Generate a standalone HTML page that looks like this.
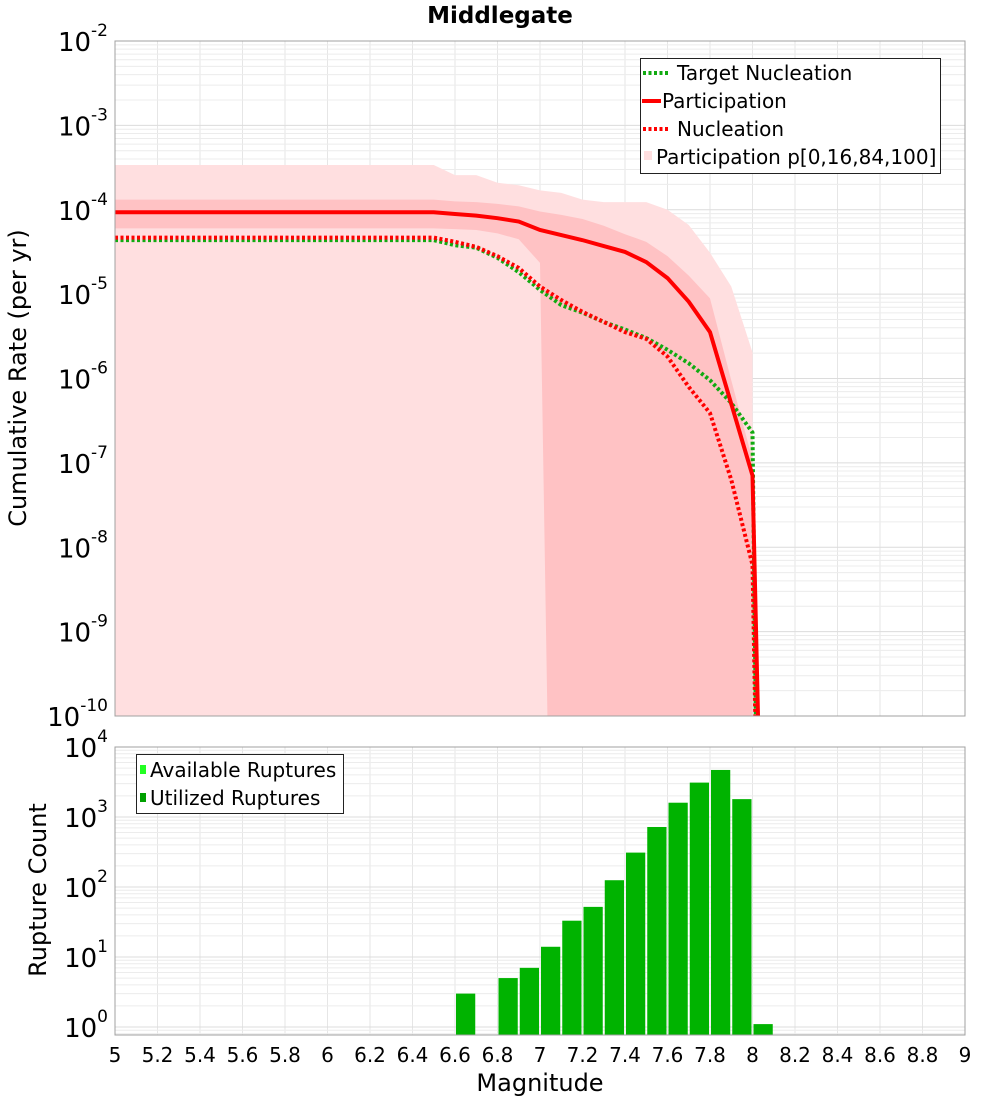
<!DOCTYPE html>
<html><head><meta charset="utf-8"><style>
html,body{margin:0;padding:0;background:#fff;width:1000px;height:1100px;overflow:hidden;}
svg{display:block;font-family:"DejaVu Sans","Liberation Sans",sans-serif;}
</style></head><body>
<svg id="c" width="1000" height="1100"></svg>
<script>
const mags=[5.0,5.1,5.2,5.3,5.4,5.5,5.6,5.7,5.8,5.9,6.0,6.1,6.2,6.3,6.4,6.5,6.6,6.7,6.8,6.9,7.0,7.1,7.2,7.3,7.4,7.5,7.6,7.7,7.8,7.9,8.0];
const partLog=[-4.03,-4.03,-4.03,-4.03,-4.03,-4.03,-4.03,-4.03,-4.03,-4.03,-4.03,-4.03,-4.03,-4.03,-4.03,-4.03,-4.05,-4.07,-4.10,-4.14,-4.24,-4.30,-4.36,-4.43,-4.50,-4.62,-4.81,-5.09,-5.45,-6.30,-7.15];
const nuclLog=[-4.33,-4.33,-4.33,-4.33,-4.33,-4.33,-4.33,-4.33,-4.33,-4.33,-4.33,-4.33,-4.33,-4.33,-4.33,-4.33,-4.38,-4.44,-4.55,-4.69,-4.91,-5.07,-5.21,-5.33,-5.45,-5.53,-5.74,-6.10,-6.41,-7.20,-8.21];
const targLog=[-4.36,-4.36,-4.36,-4.36,-4.36,-4.36,-4.36,-4.36,-4.36,-4.36,-4.36,-4.36,-4.36,-4.36,-4.36,-4.36,-4.42,-4.45,-4.57,-4.74,-4.95,-5.13,-5.22,-5.33,-5.42,-5.52,-5.66,-5.82,-6.02,-6.29,-6.64];
const p100Log=[-3.47,-3.47,-3.47,-3.47,-3.47,-3.47,-3.47,-3.47,-3.47,-3.47,-3.47,-3.47,-3.47,-3.47,-3.47,-3.47,-3.59,-3.59,-3.68,-3.71,-3.77,-3.80,-3.88,-3.91,-3.91,-3.91,-4.00,-4.18,-4.51,-4.91,-5.69];
const p84Log=[-3.88,-3.88,-3.88,-3.88,-3.88,-3.88,-3.88,-3.88,-3.88,-3.88,-3.88,-3.88,-3.88,-3.88,-3.88,-3.88,-3.90,-3.91,-3.93,-3.96,-4.02,-4.06,-4.11,-4.19,-4.29,-4.38,-4.55,-4.78,-5.05,-6.02,-6.96];
const p16Log=[-4.22,-4.22,-4.22,-4.22,-4.22,-4.22,-4.22,-4.22,-4.22,-4.22,-4.22,-4.22,-4.22,-4.22,-4.22,-4.22,-4.23,-4.24,-4.28,-4.35,-4.63,-20,-20,-20,-20,-20,-20,-20,-20,-20,-20];
const p0Log=[-20,-20,-20,-20,-20,-20,-20,-20,-20,-20,-20,-20,-20,-20,-20,-20,-20,-20,-20,-20,-20,-20,-20,-20,-20,-20,-20,-20,-20,-20,-20];
const binStarts=[6.6,6.8,6.9,7.0,7.1,7.2,7.3,7.4,7.5,7.6,7.7,7.8,7.9,8.0];
const counts=[3,5,7,14,33,52,125,310,720,1600,3100,4700,1800,1.1];
const xTicks=["5","5.2","5.4","5.6","5.8","6","6.2","6.4","6.6","6.8","7","7.2","7.4","7.6","7.8","8","8.2","8.4","8.6","8.8","9"];

const NS="http://www.w3.org/2000/svg";
const svg=document.getElementById('c');
function mk(t,a,p){const e=document.createElementNS(NS,t);for(const k in a)e.setAttribute(k,a[k]);(p||svg).appendChild(e);return e;}
const L=115,R=965;
const X=m=>L+(m-5)*(R-L)/4;
const T1=41,B1=716,Y1=l=>T1+(-2-l)*(B1-T1)/8;
const T2=747,B2=1035,Y2=l=>T2+(4-l)*70;

const defs=mk('defs',{});
const c1=mk('clipPath',{id:'cp1'},defs);mk('rect',{x:L,y:T1,width:R-L,height:B1-T1},c1);
const c2=mk('clipPath',{id:'cp2'},defs);mk('rect',{x:L,y:T2,width:R-L,height:B2-T2},c2);

function grid(top,bot,Yf,dmin,dmax,name){
  const g=mk('g',{});
  
  
  for(let i=0;i<=20;i++){const x=X(5+i*0.2);mk('line',{x1:x,x2:x,y1:top,y2:bot,stroke:'#e6e6e6','stroke-width':1},g);}
  for(let d=dmin;d<dmax;d++){for(let k=1;k<10;k++){const y=Yf(d+Math.log10(k));if(y<top||y>bot)continue;mk('line',{x1:L,x2:R,y1:y,y2:y,stroke:k==1?'#dcdcdc':'#ececec','stroke-width':1},g);}}
}
grid(T1,B1,Y1,-10,-2,'top-grid');
grid(T2,B2,Y2,-1,4,'bottom-grid');

function band(up,lo,fill,name){
  let pts=mags.map((m,i)=>X(m)+','+Y1(up[i]));
  for(let i=mags.length-1;i>=0;i--)pts.push(X(mags[i])+','+Y1(lo[i]));
  const p=mk('polygon',{points:pts.join(' '),fill:fill,'clip-path':'url(#cp1)'});
  
  
}
band(p100Log,p0Log,'#ffdfe0','band-p0-p100');
band(p84Log,p16Log,'#ffc2c4','band-p16-p84');
function line(arr,color,w,dash,name,endM){
  let pts=mags.map((m,i)=>X(m)+','+Y1(arr[i]));
  pts.push(X(endM)+','+Y1(-11));
  const a={points:pts.join(' '),fill:'none',stroke:color,'stroke-width':w,'clip-path':'url(#cp1)'};
  if(dash)a['stroke-dasharray']=dash;
  const p=mk('polyline',a);
  
  
}
line(targLog,'#11aa11',4,'3,2.5','target-nucleation-line',8.02);
line(nuclLog,'#ff0000',4,'3,2.5','nucleation-line',8.02);
line(partLog,'#ff0000',4,null,'participation-line',8.035);

const bg=mk('g',{'clip-path':'url(#cp2)'});


binStarts.forEach((m,i)=>{
  const y=Y2(Math.log10(counts[i]));
  const r=mk('rect',{x:X(m)+1,y:y,width:X(m+0.1)-X(m)-2,height:B2-y,fill:'#00b300'},bg);
  
  
});

mk('rect',{x:L,y:T1,width:R-L,height:B1-T1,fill:'none',stroke:'#a0a0a0','stroke-width':1});
mk('rect',{x:L,y:T2,width:R-L,height:B2-T2,fill:'none',stroke:'#a0a0a0','stroke-width':1});

function ylab(y,exp,name){
  const t=mk('text',{x:108,y:y+10,'text-anchor':'end','font-size':26,fill:'#000'});
  
  
  const a=document.createElementNS(NS,'tspan');a.textContent='10';t.appendChild(a);
  const b=document.createElementNS(NS,'tspan');b.setAttribute('dy','-15');b.setAttribute('font-size','17');b.textContent=exp;t.appendChild(b);
}
for(let d=-2;d>=-10;d--)ylab(Y1(d),String(d),'y-tick-'+d);
for(let d=4;d>=0;d--)ylab(Y2(d),String(d),'count-tick-'+d);

xTicks.forEach((s,i)=>{
  const t=mk('text',{x:X(5+i*0.2),y:1062,'text-anchor':'middle','font-size':20,fill:'#000'});
  t.textContent=s;
  
  
});

function txt(s,a,name,p){const t=mk('text',a,p);t.textContent=s;return t;}
txt('Middlegate',{x:500,y:23,'text-anchor':'middle','font-size':23,'font-weight':'bold'},'chart-title');
txt('Magnitude',{x:540,y:1091,'text-anchor':'middle','font-size':24},'x-axis-title');
txt('Cumulative Rate (per yr)',{x:0,y:0,'text-anchor':'middle','font-size':24,transform:'translate(26,378) rotate(-90)'},'y-axis-title');
txt('Rupture Count',{x:0,y:0,'text-anchor':'middle','font-size':24,transform:'translate(46,890) rotate(-90)'},'count-axis-title');

const lg=mk('g',{});


mk('rect',{x:640.5,y:58.5,width:300,height:115,fill:'#fff',stroke:'#222','stroke-width':1},lg);
mk('line',{x1:643,x2:669,y1:73,y2:73,stroke:'#11aa11','stroke-width':4,'stroke-dasharray':'3,2.5'},lg);
txt('Target Nucleation',{x:677,y:80,'font-size':20},'legend-target-nucleation',lg);
mk('line',{x1:642,x2:661,y1:101,y2:101,stroke:'#ff0000','stroke-width':4},lg);
txt('Participation',{x:662,y:108,'font-size':20},'legend-participation',lg);
mk('line',{x1:643,x2:669,y1:129,y2:129,stroke:'#ff0000','stroke-width':4,'stroke-dasharray':'3,2.5'},lg);
txt('Nucleation',{x:677,y:136,'font-size':20},'legend-nucleation',lg);
mk('rect',{x:644,y:151,width:8,height:9,fill:'#ffdfe0'},lg);
txt('Participation p[0,16,84,100]',{x:656,y:164,'font-size':20},'legend-participation-band',lg);

const lg2=mk('g',{});


mk('rect',{x:136.5,y:754.5,width:207,height:59,fill:'#fff',stroke:'#222','stroke-width':1},lg2);
mk('rect',{x:140,y:765,width:6,height:9,fill:'#22ff22'},lg2);
txt('Available Ruptures',{x:150,y:777,'font-size':20},'legend-available',lg2);
mk('rect',{x:140,y:793,width:6,height:9,fill:'#00a000'},lg2);
txt('Utilized Ruptures',{x:150,y:805,'font-size':20},'legend-utilized',lg2);
</script>
</body></html>
